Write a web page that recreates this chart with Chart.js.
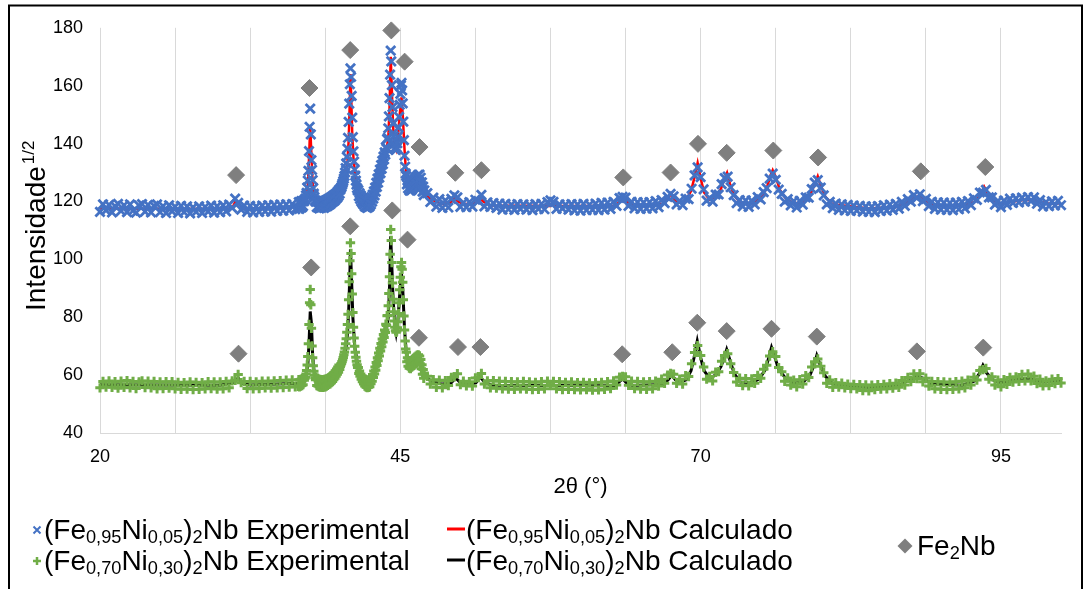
<!DOCTYPE html>
<html>
<head>
<meta charset="utf-8">
<title>DRX Fe-Ni-Nb</title>
<script src="https://cdn.jsdelivr.net/npm/chart.js@4.4.1/dist/chart.umd.min.js"></script>
<style>
  html, body { margin: 0; padding: 0; background: #fff; }
  #xrdChart { display: block; }
</style>
</head>
<body>
<canvas id="xrdChart" width="1084" height="589"></canvas>
<script>
// 2θ scan: three blocks with their own step (coarse / fine around the main peaks / coarse)
const scanA = { start: 20, step: 0.25 };
const scanB = { start: 36.5, step: 0.05 };
const scanC = { start: 47.25, step: 0.25 };

// (Fe0,95Ni0,05)2Nb experimental
const blueExpA = [
  116.4, 119.0, 116.9, 118.8, 116.2, 118.4, 119.2, 116.7,
  118.7, 116.3, 119.0, 116.8, 116.1, 118.6, 119.1, 116.5,
  118.8, 116.2, 118.5, 119.0, 116.3, 118.4, 116.0, 118.7,
  116.6, 118.2, 116.0, 118.5, 116.3, 118.3, 115.9, 118.0,
  116.4, 118.3, 116.0, 118.1, 116.5, 118.6, 116.1, 118.4,
  116.3, 118.7, 116.6, 118.9, 117.8, 121.0, 119.5, 117.2,
  118.6, 116.4, 118.5, 116.2, 118.3, 116.4, 118.6, 116.6,
  118.7, 116.5, 118.8, 116.7, 118.9, 116.8, 119.0, 116.9,
  119.1, 117.3
];
const blueExpB = [
  117.6, 119.8, 117.4, 119.6, 118.0, 120.1, 117.9, 120.0, 118.4, 120.3,
  120.1, 120.6, 121.0, 122.1, 123.0, 124.8, 127.2, 130.6, 137.4, 145.8,
  152.1, 143.2, 134.3, 130.9, 127.4, 124.6, 122.7, 121.5, 120.4, 119.9,
  120.1, 118.0, 120.0, 117.9, 119.8, 117.6, 119.9, 117.8, 120.0, 117.9,
  119.9, 118.0, 120.2, 117.8, 120.1, 118.1, 120.4, 118.3, 120.6, 118.5,
  120.8, 118.8, 121.0, 119.0, 121.3, 119.4, 121.6, 119.8, 121.9, 120.1,
  122.2, 120.4, 122.5, 120.9, 122.9, 121.3, 123.4, 121.9, 124.0, 122.7,
  124.1, 124.6, 125.0, 125.7, 126.3, 127.0, 127.9, 128.8, 130.0, 131.5,
  133.2, 135.4, 138.3, 142.0, 147.5, 153.8, 160.5, 166.0, 163.0, 156.5,
  149.0, 142.2, 137.3, 133.8, 131.0, 128.9, 127.2, 125.8, 124.6, 123.8,
  123.9, 121.8, 122.9, 120.9, 122.1, 120.0, 121.4, 119.4, 120.8, 118.9,
  120.5, 118.2, 120.3, 118.0, 120.1, 117.8, 120.0, 118.0, 120.4, 118.3,
  120.7, 119.0, 121.5, 119.9, 122.4, 121.0, 123.5, 122.1, 124.8, 123.4,
  126.4, 125.0, 127.9, 126.5, 129.4, 128.2, 131.0, 129.8, 132.6, 131.3,
  134.0, 132.9, 135.5, 134.5, 137.0, 136.2, 138.8, 138.3, 141.5, 142.0,
  145.3, 149.4, 155.7, 163.8, 172.1, 168.4, 160.2, 152.6, 146.9, 142.6,
  139.9, 138.4, 137.8, 137.9, 138.6, 140.1, 142.4, 145.5, 149.2, 153.4,
  157.2, 160.1, 161.0, 158.4, 153.9, 147.6, 141.2, 135.8, 132.0, 129.6,
  128.8, 125.9, 127.3, 124.5, 126.5, 123.8, 126.2, 123.7, 126.4, 124.0,
  126.8, 124.6, 127.3, 125.1, 127.8, 125.6, 128.3, 126.0, 128.8, 126.5,
  129.2, 126.8, 129.3, 126.5, 128.2, 125.0, 126.6, 123.4, 125.1, 122.2,
  123.8
];
const blueExpC = [
  122.9, 119.8, 121.3, 118.2, 120.8, 117.8, 120.4, 117.9,
  120.9, 122.1, 121.4, 118.1, 119.6, 118.0, 119.8, 118.2,
  120.6, 120.1, 122.3, 118.3, 119.7, 118.1, 119.4, 117.8,
  119.3, 117.2, 119.2, 117.3, 118.9, 117.1, 119.1, 117.4,
  119.0, 117.2, 118.8, 117.0, 119.1, 117.4, 119.2, 117.3,
  119.8, 120.4, 119.9, 117.4, 119.0, 117.5, 118.9, 117.2,
  119.1, 116.9, 119.0, 116.8, 119.2, 117.0, 118.9, 117.1,
  119.3, 117.0, 119.5, 117.2, 119.6, 117.4, 119.9, 118.5,
  121.2, 121.6, 121.3, 118.5, 119.9, 117.6, 119.8, 117.4,
  119.7, 117.5, 119.8, 117.6, 120.1, 118.0, 120.5, 119.4,
  121.6, 122.6, 121.8, 119.0, 120.2, 118.7, 121.0, 120.8,
  124.4, 129.0, 131.8, 128.4, 124.2, 120.3, 121.2, 119.9,
  122.4, 122.4, 126.0, 128.1, 128.6, 124.9, 122.2, 119.4,
  120.5, 118.3, 120.4, 118.1, 120.3, 119.0, 121.5, 120.7,
  123.2, 124.6, 127.9, 129.6, 127.5, 124.1, 122.6, 119.9,
  120.8, 118.6, 120.1, 117.9, 120.2, 118.9, 121.4, 121.3,
  124.3, 126.5, 127.4, 124.8, 122.1, 119.0, 119.9, 117.7,
  119.3, 117.1, 119.0, 116.9, 118.8, 116.7, 118.6, 116.8,
  118.5, 116.5, 118.3, 116.4, 118.2, 116.3, 118.4, 116.7,
  118.7, 116.8, 118.9, 117.1, 119.2, 117.5, 119.9, 118.5,
  120.8, 119.9, 122.2, 121.2, 122.5, 120.1, 120.9, 118.4,
  119.9, 117.4, 119.7, 117.2, 119.6, 117.1, 119.5, 117.0,
  119.6, 117.3, 119.9, 117.6, 120.1, 118.7, 121.1, 120.5,
  123.1, 123.1, 124.0, 121.4, 121.4, 118.9, 120.2, 118.0,
  120.3, 118.8, 121.0, 119.5, 121.1, 119.7, 121.3, 119.9,
  121.5, 120.1, 121.4, 119.2, 120.5, 118.3, 119.8, 118.4,
  120.0, 118.6, 120.2, 118.7
];

// (Fe0,70Ni0,30)2Nb experimental
const greenExpA = [
  55.6, 57.8, 55.9, 58.0, 55.8, 57.7, 55.5, 57.9,
  55.8, 58.1, 55.6, 57.8, 55.4, 57.6, 58.0, 55.7,
  57.9, 55.6, 57.8, 55.3, 57.6, 55.4, 57.7, 55.5,
  57.7, 55.3, 57.5, 55.1, 57.4, 55.2, 57.6, 55.0,
  57.5, 55.1, 57.4, 55.3, 57.7, 55.4, 57.6, 55.2,
  57.6, 55.3, 57.8, 55.6, 58.0, 58.2, 60.2, 57.4,
  57.8, 55.4, 57.8, 55.3, 57.6, 55.4, 57.9, 55.6,
  57.9, 55.5, 58.0, 55.6, 58.1, 55.7, 58.2, 55.9,
  58.3, 56.0
];
const greenExpB = [
  56.1, 58.4, 56.0, 58.3, 56.2, 58.6, 56.4, 58.8, 56.7, 59.0,
  58.2, 58.8, 59.3, 60.4, 61.6, 63.5, 66.4, 70.8, 77.5, 85.0,
  89.6, 84.3, 76.2, 70.1, 66.0, 63.2, 61.3, 60.0, 59.1, 58.4,
  59.0, 56.4, 58.8, 56.2, 58.6, 56.0, 58.5, 55.9, 58.4, 55.9,
  58.4, 55.8, 58.3, 56.0, 58.5, 56.0, 58.6, 56.2, 58.8, 56.5,
  59.0, 56.8, 59.3, 57.0, 59.6, 57.4, 60.0, 57.8, 60.4, 58.4,
  60.9, 58.9, 61.5, 59.6, 62.1, 60.3, 62.8, 61.0, 63.5, 61.9,
  63.0, 63.5, 64.0, 64.6, 65.3, 66.1, 67.0, 68.0, 69.3, 70.8,
  72.6, 74.8, 77.5, 81.0, 86.0, 92.3, 99.5, 105.7, 102.0, 95.0,
  88.0, 81.6, 76.5, 72.8, 70.0, 67.9, 66.2, 64.8, 63.6, 62.6,
  62.6, 60.6, 61.4, 59.6, 60.4, 58.6, 59.7, 57.7, 59.1, 56.9,
  58.6, 56.2, 58.5, 55.9, 58.3, 55.7, 58.1, 55.8, 58.4, 56.0,
  58.6, 57.0, 59.2, 57.9, 60.2, 59.2, 61.4, 60.4, 62.8, 61.7,
  64.4, 63.3, 66.0, 65.0, 67.6, 66.6, 69.3, 68.3, 70.9, 69.8,
  72.5, 71.4, 74.0, 73.0, 75.6, 74.7, 77.6, 77.1, 80.5, 80.6,
  84.0, 88.2, 94.0, 101.8, 110.3, 106.5, 98.9, 91.8, 86.2, 81.9,
  78.7, 76.5, 75.3, 74.8, 75.2, 76.4, 78.4, 81.3, 85.0, 89.5,
  93.8, 97.4, 98.9, 96.6, 92.1, 86.0, 80.4, 75.6, 71.8, 69.0,
  67.9, 64.6, 66.0, 63.1, 65.0, 62.4, 64.7, 62.3, 65.0, 62.8,
  65.4, 63.1, 65.8, 63.5, 66.2, 63.9, 66.5, 64.3, 66.9, 64.6,
  67.0, 64.8, 66.6, 63.9, 65.4, 62.2, 63.6, 60.3, 61.9, 58.9,
  60.4
];
const greenExpC = [
  59.6, 56.9, 58.4, 55.8, 58.2, 55.6, 58.1, 56.4,
  59.2, 59.4, 60.5, 56.7, 57.9, 56.3, 57.7, 56.2,
  59.0, 59.2, 60.6, 56.9, 58.0, 55.6, 58.1, 55.5,
  57.9, 55.3, 57.8, 55.2, 57.7, 55.1, 57.6, 55.3,
  57.8, 55.2, 57.6, 55.0, 57.5, 55.1, 57.7, 55.3,
  57.9, 56.4, 57.8, 55.3, 57.7, 55.0, 57.5, 55.1,
  57.6, 55.0, 57.4, 54.9, 57.5, 55.0, 57.3, 54.8,
  57.4, 54.9, 57.5, 55.1, 57.7, 55.4, 58.0, 56.6,
  59.3, 59.5, 59.4, 56.5, 57.9, 55.4, 57.8, 55.2,
  57.6, 55.1, 57.7, 55.3, 57.9, 56.2, 58.6, 57.2,
  60.0, 60.6, 60.3, 57.2, 58.6, 56.9, 59.8, 59.5,
  63.9, 67.8, 70.2, 66.8, 62.8, 58.6, 59.5, 58.0,
  61.0, 61.2, 64.8, 66.8, 67.4, 63.9, 60.9, 57.6,
  58.9, 56.4, 58.8, 56.3, 58.7, 57.2, 59.9, 58.9,
  62.0, 63.4, 66.6, 68.1, 66.4, 62.6, 61.2, 57.9,
  59.0, 56.6, 58.2, 56.0, 58.4, 56.9, 59.8, 59.2,
  62.8, 64.6, 65.6, 63.1, 60.8, 57.2, 58.3, 55.8,
  57.4, 55.9, 57.2, 55.6, 56.9, 55.4, 56.8, 55.3,
  56.7, 54.7, 56.6, 54.6, 56.5, 55.0, 56.7, 55.2,
  56.8, 55.3, 57.0, 55.5, 57.2, 55.8, 58.1, 56.6,
  59.2, 57.8, 60.4, 58.8, 60.5, 57.7, 58.9, 56.2,
  57.8, 55.3, 57.7, 55.1, 57.6, 55.0, 57.5, 55.1,
  57.7, 55.3, 57.9, 55.6, 58.2, 56.6, 59.3, 58.3,
  61.6, 61.9, 62.3, 58.6, 59.4, 56.6, 58.2, 56.0,
  58.4, 56.8, 59.2, 57.6, 59.4, 57.9, 60.2, 58.0,
  60.4, 58.0, 59.6, 57.1, 58.6, 56.3, 58.0, 56.4,
  58.6, 57.1, 58.8, 57.3
];

// calculated profiles
const redCalcX = [20, 25, 30, 31.0, 31.3, 31.6, 31.9, 35, 36.5, 37.0, 37.2, 37.3, 37.4, 37.5, 37.6, 37.7, 37.8, 38.0, 38.5,
  39.0, 39.5, 40.0, 40.3, 40.5, 40.6, 40.7, 40.8, 40.85, 40.9, 41.0, 41.1, 41.25, 41.5, 42.0, 42.3, 42.7, 43.0, 43.5,
  43.8, 44.0, 44.1, 44.2, 44.3, 44.4, 44.5, 44.65, 44.8, 44.95, 45.1, 45.2, 45.35, 45.5, 45.8, 46.2, 46.6,
  47.0, 47.5, 48.5, 49.2, 49.5, 49.8, 50.3, 51.3, 51.6, 51.9, 52.5, 57.5, 57.75, 58.0, 62.8, 63.2, 63.55, 63.9, 64.5,
  66.8, 67.2, 67.5, 67.8, 68.25, 68.75, 69.2, 69.5, 69.75, 70.0, 70.3, 70.75, 71.3, 71.7, 72.0, 72.2, 72.45, 72.8,
  73.3, 74.3, 74.9, 75.5, 75.8, 76.0, 76.25, 76.6, 77.1, 77.8, 78.6, 79.1, 79.5, 79.75, 80.0, 80.4, 81.0, 84.0,
  86.5, 87.4, 88.0, 88.25, 88.7, 89.3, 91.8, 92.8, 93.3, 93.6, 93.9, 94.4, 95.0, 96.0, 97.0, 98.0, 99.0, 100];
const redCalcY = [117.6, 117.5, 117.4, 117.6, 120.2, 119.0, 117.6, 117.7, 118.6, 119.5, 121.5, 125.0, 135.0, 146.0, 136.0, 126.5, 122.0, 119.8, 118.9,
  119.5, 121.0, 123.5, 126.5, 130.0, 134.0, 141.0, 155.0, 164.0, 158.0, 143.0, 135.0, 129.0, 124.0, 119.8, 119.0, 120.5, 124.5, 132.5,
  136.5, 142.0, 152.0, 170.0, 158.0, 146.0, 140.0, 138.0, 142.0, 150.0, 156.0, 150.0, 138.0, 128.5, 125.0, 126.0, 127.8,
  123.0, 120.8, 119.1, 119.6, 121.0, 120.0, 119.0, 119.5, 121.2, 120.0, 118.6, 118.4, 119.6, 118.4, 118.4, 119.6, 122.0, 119.6, 118.6,
  119.2, 120.4, 122.6, 120.6, 119.6, 120.2, 123.6, 128.5, 133.3, 128.0, 123.0, 120.6, 121.8, 124.5, 128.0, 129.9, 126.0, 122.0,
  119.6, 119.3, 120.8, 124.5, 128.8, 130.8, 128.5, 124.0, 121.0, 119.3, 119.8, 122.0, 126.0, 128.7, 125.5, 121.5, 119.0, 117.6,
  118.2, 120.3, 121.7, 122.0, 120.6, 118.7, 118.5, 119.8, 122.2, 125.1, 122.6, 120.2, 119.1, 120.0, 120.6, 120.2, 119.2, 119.4];

const blackCalcX = [20, 30, 31.2, 31.5, 31.8, 32.5, 36.5, 37.0, 37.2, 37.3, 37.4, 37.5, 37.6, 37.7, 37.8, 38.0, 38.2, 39.0, 39.5, 40.0,
  40.3, 40.5, 40.6, 40.7, 40.8, 40.85, 40.95, 41.05, 41.2, 41.5, 42.0, 42.3, 42.7, 43.0, 43.5, 43.8, 44.0, 44.1, 44.2,
  44.3, 44.4, 44.55, 44.65, 44.8, 44.95, 45.1, 45.2, 45.35, 45.5, 45.8, 46.6,
  47.0, 47.5, 48.5, 49.2, 49.6, 50.0, 50.6, 51.3, 51.65, 52.0, 52.6, 62.8, 63.2, 63.5, 63.8, 64.3,
  66.9, 67.3, 67.6, 67.9, 68.3, 68.8, 69.2, 69.45, 69.72, 70.0, 70.3, 70.75, 71.3, 71.7, 72.0, 72.17, 72.45, 72.8,
  73.3, 74.3, 74.9, 75.4, 75.7, 75.9, 76.15, 76.5, 77.1, 77.8, 78.6, 79.1, 79.45, 79.67, 79.95, 80.4, 81.0, 84.0,
  86.5, 87.4, 88.0, 88.5, 89.2, 91.8, 92.8, 93.2, 93.5, 93.8, 94.3, 95.0, 96.5, 97.3, 98.5, 100];
const blackCalcY = [56.7, 56.5, 57.6, 59.0, 57.2, 56.6, 57.2, 58.3, 60.5, 63.5, 71.0, 82.0, 78.0, 67.0, 62.0, 59.0, 57.8, 58.2, 60.0, 62.5,
  65.0, 70.0, 74.0, 82.0, 95.0, 103.5, 92.0, 80.0, 70.0, 62.5, 58.0, 57.0, 58.5, 63.0, 71.0, 74.5, 80.0, 90.0, 108.0,
  97.0, 86.0, 77.0, 74.5, 79.0, 88.0, 94.9, 90.0, 76.0, 67.5, 63.5, 65.0,
  60.5, 58.0, 56.9, 57.2, 59.0, 57.4, 56.6, 57.4, 59.4, 57.6, 56.5, 56.3, 57.6, 58.8, 57.4, 56.4,
  56.8, 58.4, 60.0, 58.4, 57.6, 58.4, 61.5, 66.0, 71.8, 66.0, 61.5, 58.8, 60.2, 63.0, 66.5, 68.8, 65.0, 60.5,
  57.6, 57.4, 58.8, 62.0, 66.5, 69.6, 66.5, 62.0, 58.8, 57.2, 57.8, 60.0, 63.5, 66.8, 63.5, 59.5, 57.0, 55.7,
  56.4, 58.4, 59.6, 59.0, 57.0, 56.5, 58.0, 60.5, 63.4, 60.8, 58.4, 57.4, 58.6, 58.8, 57.6, 58.0];

// Fe2Nb reflections marked above each pattern
const fe2nbUpperX = [31.33, 37.44, 40.83, 44.25, 45.36, 46.6, 49.58, 51.75, 63.56, 67.5, 69.78, 72.17, 76.05, 79.78, 88.33, 93.7];
const fe2nbUpperY = [129.1, 159.2, 172.3, 179.1, 168.3, 138.8, 129.9, 130.8, 128.3, 130.0, 139.9, 136.8, 137.6, 135.2, 130.4, 131.9];
const fe2nbLowerX = [31.53, 37.58, 40.83, 44.33, 45.6, 46.55, 49.8, 51.67, 63.47, 67.64, 69.72, 72.17, 75.9, 79.67, 88.0, 93.53];
const fe2nbLowerY = [67.4, 97.2, 111.4, 116.9, 106.8, 72.9, 69.7, 69.7, 67.2, 67.9, 78.1, 75.2, 76.0, 73.3, 68.2, 69.5];

// axis ticks
const xGridValues = [20, 26.25, 32.5, 38.75, 45, 51.25, 57.5, 63.75, 70, 76.25, 82.5, 88.75, 95];
const xLabelValues = [20, 45, 70, 95];

// legend texts, [text, isSubscript]
const legendExpHigh = [['(Fe', 0], ['0,95', 1], ['Ni', 0], ['0,05', 1], [')', 0], ['2', 1], ['Nb Experimental', 0]];
const legendExpLow = [['(Fe', 0], ['0,70', 1], ['Ni', 0], ['0,30', 1], [')', 0], ['2', 1], ['Nb Experimental', 0]];
const legendCalcHigh = [['(Fe', 0], ['0,95', 1], ['Ni', 0], ['0,05', 1], [')', 0], ['2', 1], ['Nb Calculado', 0]];
const legendCalcLow = [['(Fe', 0], ['0,70', 1], ['Ni', 0], ['0,30', 1], [')', 0], ['2', 1], ['Nb Calculado', 0]];
const legendPhase = [['Fe', 0], ['2', 1], ['Nb', 0]];

const FONT = "'Liberation Sans', Arial, sans-serif";
const BLUE = '#4472C4';
const GREEN = '#70AD47';
const GRAY = '#7F7F7F';

function scanPoints(scan, values) {
  return values.map((v, i) => ({ x: +(scan.start + i * scan.step).toFixed(2), y: v }));
}

function pairs(xs, ys) {
  return xs.map((x, i) => ({ x: x, y: ys[i] }));
}

const blueExpData = [...scanPoints(scanA, blueExpA), ...scanPoints(scanB, blueExpB), ...scanPoints(scanC, blueExpC)];
const greenExpData = [...scanPoints(scanA, greenExpA), ...scanPoints(scanB, greenExpB), ...scanPoints(scanC, greenExpC)];

// draws text made of normal and subscript pieces
function drawRich(ctx, parts, x, y, size) {
    for (const [text, sub] of parts) {
        let s = sub ? size * 0.65 : size;
        ctx.font = s + 'px ' + FONT;
        ctx.fillText(text, x, sub ? y + 4 : y);
        x += ctx.measureText(text).width;
    }
    return x;
}

const pagePlugin = {
    id: 'page',
    beforeDraw(chart) {
        let ctx = chart.ctx;
        ctx.save();
        ctx.fillStyle = '#fff';
        ctx.fillRect(0, 0, chart.width, chart.height);
        ctx.restore();
    },
    afterDraw(chart) {
        let ctx = chart.ctx;
        ctx.save();

        // frame
        ctx.strokeStyle = '#000';
        ctx.lineWidth = 2;
        ctx.beginPath();
        ctx.moveTo(9, 589);
        ctx.lineTo(9, 5.5);
        ctx.lineTo(1082, 5.5);
        ctx.lineTo(1082, 589);
        ctx.stroke();

        // y title with superscript
        ctx.fillStyle = '#000';
        ctx.textBaseline = 'alphabetic';
        ctx.textAlign = 'left';
        ctx.translate(45, 311);
        ctx.rotate(-Math.PI / 2);
        ctx.font = '28px ' + FONT;
        ctx.fillText('Intensidade', 0, 0);
        let w = ctx.measureText('Intensidade').width;
        ctx.font = '17px ' + FONT;
        ctx.fillText('1/2', w + 2, -11);
        ctx.setTransform(1, 0, 0, 1, 0, 0);

        // legend markers
        ctx.strokeStyle = BLUE;
        ctx.lineWidth = 2;
        ctx.beginPath();
        ctx.moveTo(33.5, 526.5); ctx.lineTo(40.5, 533.5);
        ctx.moveTo(40.5, 526.5); ctx.lineTo(33.5, 533.5);
        ctx.stroke();

        ctx.strokeStyle = GREEN;
        ctx.lineWidth = 2.5;
        ctx.beginPath();
        ctx.moveTo(33, 561); ctx.lineTo(41, 561);
        ctx.moveTo(37, 557); ctx.lineTo(37, 565);
        ctx.stroke();

        ctx.lineWidth = 3;
        ctx.strokeStyle = '#FF0000';
        ctx.beginPath();
        ctx.moveTo(447, 529); ctx.lineTo(465, 529);
        ctx.stroke();
        ctx.strokeStyle = '#000';
        ctx.beginPath();
        ctx.moveTo(447, 560); ctx.lineTo(465, 560);
        ctx.stroke();

        ctx.fillStyle = GRAY;
        ctx.beginPath();
        ctx.moveTo(905, 538.5); ctx.lineTo(912.5, 546);
        ctx.lineTo(905, 553.5); ctx.lineTo(897.5, 546);
        ctx.closePath();
        ctx.fill();

        // legend texts
        ctx.fillStyle = '#000';
        drawRich(ctx, legendExpHigh, 44, 539, 28);
        drawRich(ctx, legendExpLow, 44, 570, 28);
        drawRich(ctx, legendCalcHigh, 466, 539, 28);
        drawRich(ctx, legendCalcLow, 466, 570, 28);
        drawRich(ctx, legendPhase, 917, 555, 28);

        ctx.restore();
    }
};

let ctx = document.getElementById('xrdChart').getContext('2d');

let chart = new Chart(ctx, {
    type: 'scatter',
    data: {
        datasets: [
            {
                label: 'Fe2Nb',
                data: pairs(fe2nbUpperX, fe2nbUpperY).concat(pairs(fe2nbLowerX, fe2nbLowerY)),
                pointStyle: 'rectRot',
                pointRadius: 8.5,
                backgroundColor: GRAY,
                borderColor: GRAY,
                borderWidth: 1,
                order: 1,
                clip: false
            },
            {
                label: '(Fe0,95Ni0,05)2Nb Experimental',
                data: blueExpData,
                pointStyle: 'crossRot',
                pointRadius: 6.5,
                borderColor: BLUE,
                backgroundColor: BLUE,
                pointBorderWidth: 2.8,
                order: 2,
                clip: false
            },
            {
                label: '(Fe0,70Ni0,30)2Nb Experimental',
                data: greenExpData,
                pointStyle: 'cross',
                pointRadius: 4.7,
                borderColor: GREEN,
                backgroundColor: GREEN,
                pointBorderWidth: 3,
                order: 2,
                clip: false
            },
            {
                label: '(Fe0,95Ni0,05)2Nb Calculado',
                data: pairs(redCalcX, redCalcY),
                showLine: true,
                pointRadius: 0,
                borderColor: '#FF0000',
                borderWidth: 2.5,
                order: 3
            },
            {
                label: '(Fe0,70Ni0,30)2Nb Calculado',
                data: pairs(blackCalcX, blackCalcY),
                showLine: true,
                pointRadius: 0,
                borderColor: '#000000',
                borderWidth: 3,
                order: 3
            }
        ]
    },
    options: {
        responsive: false,
        animation: false,
        events: [],
        layout: { padding: { left: 0, top: 22, right: 23, bottom: 86 } },
        plugins: {
            legend: { display: false },
            tooltip: { enabled: false }
        },
        scales: {
            x: {
                type: 'linear',
                min: 20,
                max: 100,
                afterBuildTicks: axis => { axis.ticks = xGridValues.map(v => ({ value: v })); },
                afterFit: axis => { axis.height = 70; },
                grid: { color: '#d9d9d9', lineWidth: 1, drawTicks: false },
                border: { color: '#d9d9d9', width: 1 },
                ticks: {
                    autoSkip: false,
                    maxRotation: 0,
                    padding: 13,
                    color: '#000',
                    font: { size: 18, family: FONT },
                    callback: v => xLabelValues.includes(v) ? String(v) : ''
                },
                title: {
                    display: true,
                    text: '2θ (°)',
                    color: '#000',
                    font: { size: 22, family: FONT },
                    padding: { top: 0, bottom: 3 }
                }
            },
            y: {
                min: 40,
                max: 180,
                afterFit: axis => { axis.width = 100; },
                grid: { display: false, drawTicks: false },
                border: { display: false },
                ticks: {
                    stepSize: 20,
                    padding: 17,
                    color: '#000',
                    font: { size: 18, family: FONT }
                }
            }
        }
    },
    plugins: [pagePlugin]
});
</script>
</body>
</html>
